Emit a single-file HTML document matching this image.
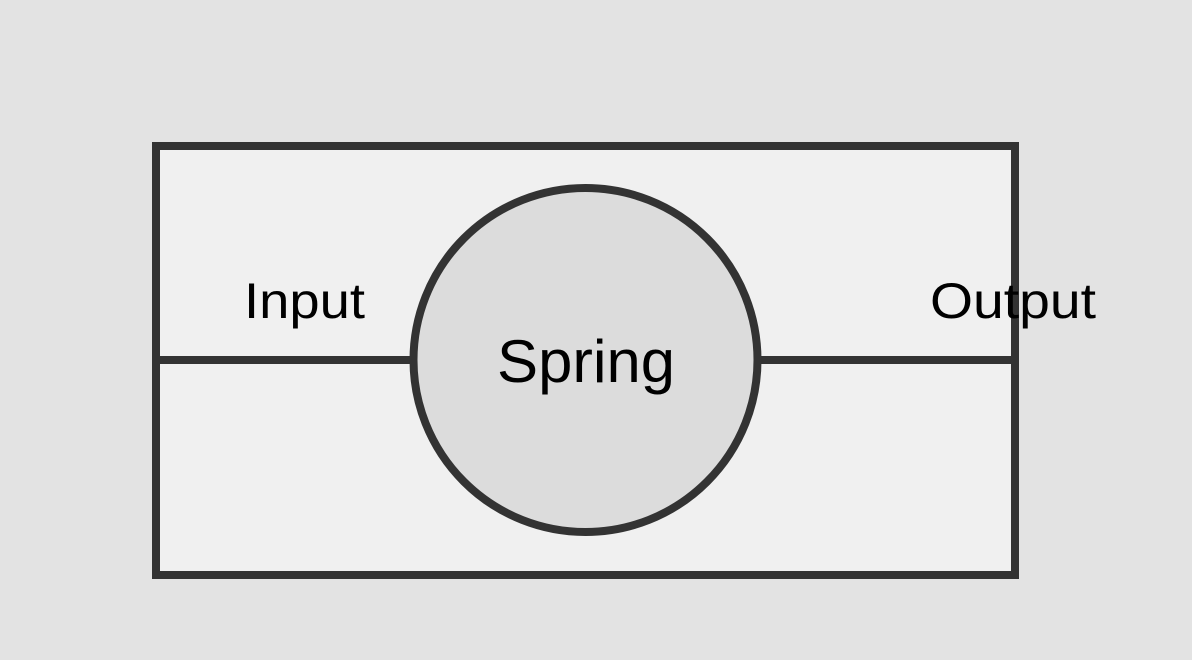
<!DOCTYPE html>
<html><head><meta charset="utf-8"><style>html,body{margin:0;padding:0;background:#e3e3e3;}svg{display:block}</style></head>
<body>
<svg width="1192" height="660" viewBox="0 0 1192 660" xmlns="http://www.w3.org/2000/svg">
<rect width="1192" height="660" fill="#e3e3e3"/>
<rect x="156" y="146" width="859" height="429" fill="#f0f0f0" stroke="#333" stroke-width="8"/>
<line x1="156" y1="360" x2="414" y2="360" stroke="#333" stroke-width="8"/>
<line x1="757" y1="360" x2="1015" y2="360" stroke="#333" stroke-width="8"/>
<circle cx="585.5" cy="360" r="172" fill="#dcdcdc" stroke="#333" stroke-width="8"/>
<text x="244" y="318" font-family="Liberation Sans, sans-serif" font-size="50" textLength="121" lengthAdjust="spacingAndGlyphs" fill="#000">Input</text>
<text x="497" y="382" font-family="Liberation Sans, sans-serif" font-size="60" textLength="178" lengthAdjust="spacingAndGlyphs" fill="#000">Spring</text>
<text x="930" y="318" font-family="Liberation Sans, sans-serif" font-size="50" textLength="166" lengthAdjust="spacingAndGlyphs" fill="#000">Output</text>
</svg>
</body></html>
